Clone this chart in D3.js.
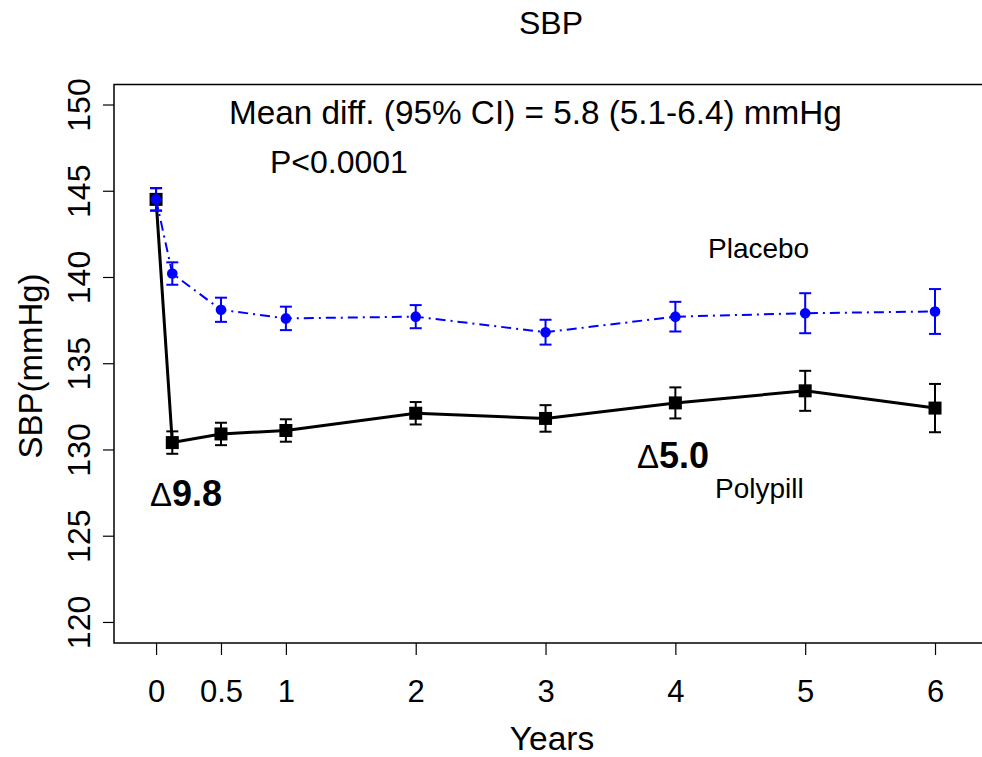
<!DOCTYPE html>
<html>
<head>
<meta charset="utf-8">
<script src="https://cdn.jsdelivr.net/npm/d3@7"></script>
<style>
  html, body { margin: 0; padding: 0; background: #fff; }
  svg text { font-family: "Liberation Sans", Arial, sans-serif; }
</style>
</head>
<body>
<div id="container"></div>
<script>
// values
let years = [0, 0.125, 0.5, 1, 2, 3, 4, 5, 6];
let placeboMean = [144.5, 140.2, 138.1, 137.6, 137.7, 136.8, 137.7, 137.9, 138.0];
let placeboErr  = [0.65, 0.65, 0.7, 0.68, 0.67, 0.72, 0.86, 1.16, 1.3];
let polypillMean = [144.5, 130.4, 130.9, 131.1, 132.1, 131.8, 132.7, 133.4, 132.4];
let polypillErr  = [0.65, 0.65, 0.65, 0.65, 0.65, 0.77, 0.9, 1.16, 1.4];
let xTicks = [0, 0.5, 1, 2, 3, 4, 5, 6];
let yTicks = [120, 125, 130, 135, 140, 145, 150];

let w = 982;
let h = 757;
let boxLeft = 114, boxRight = 985, boxTop = 84.5, boxBottom = 643;

let viz = d3.select("#container")
  .append("svg")
    .attr("width", w)
    .attr("height", h)
;

let xScale = d3.scaleLinear().domain([-0.324, 6.385]).range([boxLeft, boxRight]);
let yScale = d3.scaleLinear().domain([118.78, 151.16]).range([boxBottom, boxTop]);

// axes
let xAxis = d3.axisBottom(xScale).tickValues(xTicks).tickSize(12).tickFormat(d => d);
let xAxisGroup = viz.append("g").attr("transform", "translate(0," + boxBottom + ")").call(xAxis);
xAxisGroup.select(".domain").remove();
xAxisGroup.selectAll("line").attr("stroke", "#000").attr("stroke-width", 1.2);
xAxisGroup.selectAll("text").attr("font-size", 31).attr("fill", "#000").attr("dy", null).attr("y", 59);

let yAxis = d3.axisLeft(yScale).tickValues(yTicks).tickSize(11).tickFormat(d => d);
let yAxisGroup = viz.append("g").attr("transform", "translate(" + boxLeft + ",0)").call(yAxis);
yAxisGroup.select(".domain").remove();
yAxisGroup.selectAll("line").attr("stroke", "#000").attr("stroke-width", 1.2);
yAxisGroup.selectAll("text")
  .attr("font-size", 32)
  .attr("fill", "#000")
  .attr("x", null).attr("dy", null)
  .attr("text-anchor", "middle")
  .attr("transform", "translate(-24,0) rotate(-90)")
;

// box (right edge falls outside the picture)
viz.append("rect")
  .attr("x", boxLeft).attr("y", boxTop)
  .attr("width", boxRight - boxLeft).attr("height", boxBottom - boxTop)
  .attr("fill", "none").attr("stroke", "#000").attr("stroke-width", 1.5)
;

// titles
viz.append("text").attr("x", 551).attr("y", 34).attr("text-anchor", "middle")
  .attr("font-size", 32).text("SBP");
viz.append("text").attr("x", 552).attr("y", 750).attr("text-anchor", "middle")
  .attr("font-size", 33.5).text("Years");
viz.append("text").attr("transform", "translate(42,366) rotate(-90)").attr("text-anchor", "middle")
  .attr("font-size", 33).text("SBP(mmHg)");

let graphGroup = viz.append("g").classed("graphGroup", true);

function drawSeries(means, errs, color, lineWidth, dash, marker) {
  let pts = years.map((x, i) => ({x: x, m: means[i], e: errs[i]}));
  let line = d3.line().x(d => xScale(d.x)).y(d => yScale(d.m));
  let g = graphGroup.append("g");
  g.append("path")
    .attr("d", line(pts))
    .attr("fill", "none")
    .attr("stroke", color)
    .attr("stroke-width", lineWidth)
    .attr("stroke-dasharray", dash)
  ;
  let bars = g.selectAll(".err").data(pts).enter().append("g").classed("err", true);
  bars.append("line")
    .attr("x1", d => xScale(d.x)).attr("x2", d => xScale(d.x))
    .attr("y1", d => yScale(d.m - d.e)).attr("y2", d => yScale(d.m + d.e))
    .attr("stroke", color).attr("stroke-width", 2);
  bars.append("line")
    .attr("x1", d => xScale(d.x) - 6).attr("x2", d => xScale(d.x) + 6)
    .attr("y1", d => yScale(d.m + d.e)).attr("y2", d => yScale(d.m + d.e))
    .attr("stroke", color).attr("stroke-width", 2);
  bars.append("line")
    .attr("x1", d => xScale(d.x) - 6).attr("x2", d => xScale(d.x) + 6)
    .attr("y1", d => yScale(d.m - d.e)).attr("y2", d => yScale(d.m - d.e))
    .attr("stroke", color).attr("stroke-width", 2);
  if (marker == "square") {
    g.selectAll(".pt").data(pts).enter().append("rect")
      .attr("x", d => xScale(d.x) - 6.5).attr("y", d => yScale(d.m) - 6.5)
      .attr("width", 13).attr("height", 13)
      .attr("fill", color);
  } else {
    g.selectAll(".pt").data(pts).enter().append("circle")
      .attr("cx", d => xScale(d.x)).attr("cy", d => yScale(d.m))
      .attr("r", 5.3)
      .attr("fill", color);
  }
}

drawSeries(polypillMean, polypillErr, "#000", 3, null, "square");
drawSeries(placeboMean, placeboErr, "#0000ff", 2, "10,5,2,5", "circle");

// annotations
viz.append("text").attr("x", 229).attr("y", 124).attr("font-size", 33.3)
  .text("Mean diff. (95% CI) = 5.8 (5.1-6.4) mmHg");
viz.append("text").attr("x", 270).attr("y", 173).attr("font-size", 32)
  .text("P<0.0001");
viz.append("text").attr("x", 708).attr("y", 258).attr("font-size", 28).text("Placebo");
viz.append("text").attr("x", 715).attr("y", 498).attr("font-size", 28).text("Polypill");

function delta(x, y, val) {
  let t = viz.append("text").attr("x", x).attr("y", y);
  t.append("tspan").attr("font-size", 33).text("\u0394");
  t.append("tspan").attr("font-size", 36).attr("font-weight", "bold").text(val);
}
delta(150, 506, "9.8");
delta(637, 468, "5.0");
</script>
</body>
</html>
